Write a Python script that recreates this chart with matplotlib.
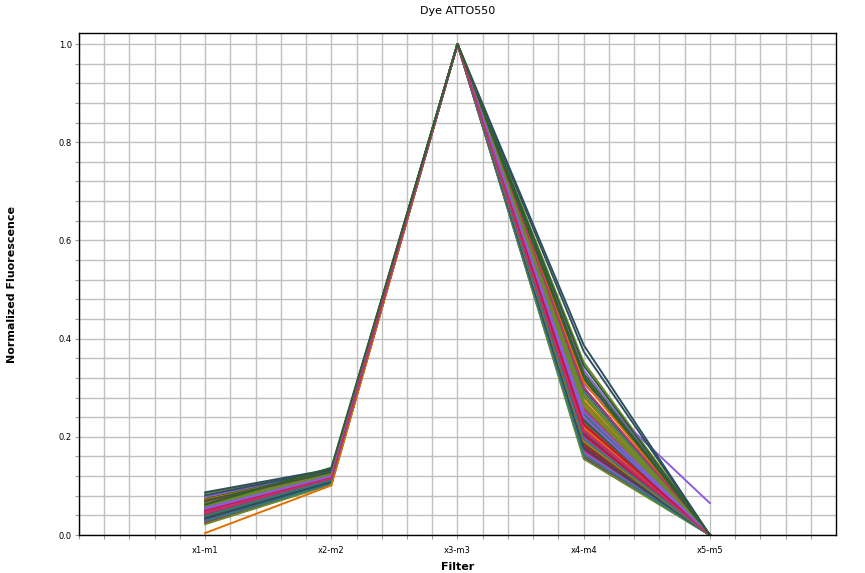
import matplotlib.pyplot as plt
import numpy as np
from matplotlib.ticker import FixedLocator

filters = ['x1-m1', 'x2-m2', 'x3-m3', 'x4-m4', 'x5-m5']

# one value per well, for each filter
f1 = [0.052, 0.067, 0.041, 0.085, 0.033, 0.058, 0.046, 0.071, 0.029, 0.062,
      0.038, 0.055, 0.049, 0.078, 0.024, 0.044, 0.065, 0.036, 0.059, 0.051,
      0.042, 0.069, 0.031, 0.056, 0.087, 0.047, 0.027, 0.063, 0.039, 0.053,
      0.045, 0.074, 0.034, 0.060, 0.048, 0.022, 0.066, 0.040, 0.057, 0.050,
      0.043, 0.072, 0.035, 0.061, 0.054, 0.030, 0.068, 0.037, 0.081, 0.046,
      0.041, 0.064, 0.028, 0.052, 0.044, 0.070, 0.033, 0.004, 0.049, 0.058,
      0.039, 0.055, 0.047, 0.062]
f2 = [0.118, 0.124, 0.112, 0.131, 0.108, 0.121, 0.115, 0.127, 0.106, 0.123,
      0.111, 0.120, 0.116, 0.129, 0.104, 0.114, 0.125, 0.110, 0.122, 0.117,
      0.113, 0.126, 0.107, 0.120, 0.134, 0.115, 0.105, 0.124, 0.111, 0.119,
      0.114, 0.128, 0.109, 0.122, 0.116, 0.103, 0.125, 0.112, 0.121, 0.118,
      0.113, 0.127, 0.110, 0.123, 0.119, 0.106, 0.126, 0.111, 0.132, 0.117,
      0.114, 0.124, 0.105, 0.118, 0.115, 0.128, 0.108, 0.101, 0.116, 0.121,
      0.112, 0.120, 0.115, 0.137]
f3 = [1.0] * 64
f4 = [0.232, 0.287, 0.184, 0.352, 0.166, 0.261, 0.205, 0.318, 0.158, 0.274,
      0.196, 0.243, 0.221, 0.336, 0.171, 0.213, 0.298, 0.189, 0.255, 0.228,
      0.201, 0.307, 0.162, 0.249, 0.387, 0.217, 0.175, 0.281, 0.193, 0.238,
      0.209, 0.329, 0.179, 0.266, 0.224, 0.155, 0.292, 0.198, 0.258, 0.235,
      0.207, 0.312, 0.182, 0.270, 0.246, 0.168, 0.301, 0.187, 0.374, 0.219,
      0.203, 0.284, 0.164, 0.240, 0.214, 0.323, 0.177, 0.191, 0.226, 0.262,
      0.195, 0.252, 0.211, 0.345]
f5 = [0.0] * 64
f5[21] = 0.065

colors = ['#2f4f5f', '#e07000', '#d0103a', '#6a8a2a', '#2e7d7d',
          '#8a5ce0', '#c0306a', '#2f5f2f']

fig = plt.figure(figsize=(8.65, 5.73), dpi=100)
ax = fig.add_axes([0.0913, 0.0663, 0.8752, 0.8761])

xs = np.arange(1, 6)
for i in range(len(f1)):
    ys = [f1[i], f2[i], f3[i], f4[i], f5[i]]
    ax.plot(xs, ys, color=colors[i % len(colors)], lw=1.4)

ax.set_xlim(0, 6)
ax.set_ylim(0, 1.0224)

xt = np.arange(0, 30) * 0.2
ax.xaxis.set_major_locator(FixedLocator(xt))
ax.set_xticklabels([filters[int(round(v)) - 1] if abs(v - round(v)) < 1e-6 and 1 <= round(v) <= 5 else '' for v in xt])
yt = np.arange(0, 26) * 0.04
ax.yaxis.set_major_locator(FixedLocator(yt))
ax.set_yticklabels(['%.1f' % v if k % 5 == 0 else '' for k, v in enumerate(yt)])
ax.tick_params(axis='x', length=3, color='#a0a0a0', labelsize=6, pad=5)
ax.tick_params(axis='y', length=3, color='#a0a0a0', labelsize=6, pad=2)

ax.grid(True, color='#c0c0c0', lw=1)
ax.set_axisbelow(True)
for s in ax.spines.values():
    s.set_color('black')
    s.set_linewidth(1)

ax.set_title('Dye ATTO550', fontsize=8, pad=14)
ax.set_xlabel('Filter', fontsize=8, fontweight='bold', labelpad=5)
ax.set_ylabel('Normalized Fluorescence', fontsize=8, fontweight='bold', labelpad=30)

fig.savefig('out.png', dpi=100)
